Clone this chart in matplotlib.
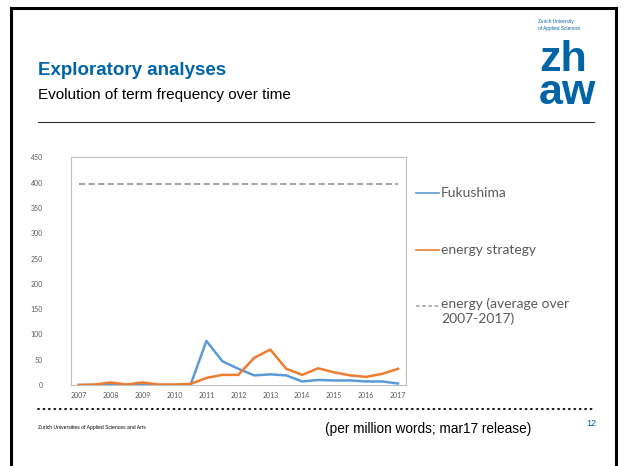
import matplotlib
matplotlib.use("Agg")
from matplotlib import pyplot as plt
from matplotlib.lines import Line2D

# half-year steps, labels only on full years
periods = [2007, 2007.5, 2008, 2008.5, 2009, 2009.5, 2010, 2010.5, 2011, 2011.5, 2012,
           2012.5, 2013, 2013.5, 2014, 2014.5, 2015, 2015.5, 2016, 2016.5, 2017]
fukushima = [0, 0, 2, 0, 1, 0, 0, 0, 87, 47, 32, 19, 21, 19, 7, 10, 9, 9, 7, 7, 3]
energy_strategy = [0, 1, 5, 1, 5, 1, 1, 2, 14, 20, 20, 54, 70, 32, 20, 33, 25, 19, 16, 22, 32]
energy_avg = 398
year_ticks = [2007, 2008, 2009, 2010, 2011, 2012, 2013, 2014, 2015, 2016, 2017]
y_ticks = [0, 50, 100, 150, 200, 250, 300, 350, 400, 450]

W, H = 624, 466
BLUE = "#5B9BD5"
ORANGE = "#ED7D31"
GREY = "#A5A5A5"
TXT = "#595959"
ZHAW = "#0064A6"


def px(x, y):
    return x / W, 1 - y / H


fig = plt.figure(figsize=(W / 100, H / 100), dpi=100)

# slide frame
for xs, ys in [([11, 11], [8, 466]), ([616, 616], [8, 466]), ([11, 616], [8, 8])]:
    fig.add_artist(Line2D([x / W for x in xs], [1 - y / H for y in ys], color="black", lw=2.2))

# header
fig.text(*px(38, 75), "Exploratory analyses", color=ZHAW, fontsize=13.5, fontweight="bold",
         family="Liberation Sans")
fig.text(*px(38, 99), "Evolution of term frequency over time", color="black", fontsize=11,
         family="Liberation Sans")
fig.add_artist(Line2D([38 / W, 594 / W], [1 - 122 / H] * 2, color="#333333", lw=0.8))

# logo
fig.text(*px(538, 25), "Zurich University\nof Applied Sciences", color=ZHAW, fontsize=3.4,
         family="Liberation Sans", va="center", linespacing=1.3)
fig.text(*px(539, 104), "zh\naw", color=ZHAW, fontsize=31, fontweight="bold",
         family="Liberation Sans", linespacing=0.78, va="baseline")

# chart
ax = fig.add_axes([70.7 / W, 1 - 385 / H, (406 - 70.7) / W, (385 - 157.3) / H])
ax.plot(periods, fukushima, color=BLUE, lw=1.8)
ax.plot(periods, energy_strategy, color=ORANGE, lw=1.8)
ax.plot([periods[0], periods[-1]], [energy_avg, energy_avg], color=GREY, lw=1.5,
        dashes=(3, 1.6))
ax.set_xlim(2006.75, 2017.25)
ax.set_ylim(0, 450)
ax.set_xticks(year_ticks)
ax.set_xticklabels([str(y) for y in year_ticks])
ax.set_yticks(y_ticks)
ax.tick_params(length=0, labelsize=5, labelcolor=TXT)
ax.tick_params(axis="y", pad=20)
ax.tick_params(axis="x", pad=5)
for lab in ax.get_xticklabels() + ax.get_yticklabels():
    lab.set_family("Lato")
for s in ax.spines.values():
    s.set_color("#BFBFBF")
    s.set_linewidth(0.8)

# legend
legend_items = [(193, BLUE, "-", "Fukushima"),
                (250, ORANGE, "-", "energy strategy"),
                (306, GREY, "--", "energy (average over\n2007-2017)")]
for y, c, ls, lab in legend_items:
    fig.add_artist(Line2D([416 / W, 439 / W], [1 - y / H] * 2, color=c, lw=1.2, ls=ls,
                          dashes=(2.2, 1.5) if ls == "--" else (None, None)))
    two = "\n" in lab
    fig.text(*px(441, y - 9 if two else y), lab, color=TXT, fontsize=10, family="Lato",
             va="top" if two else "center", linespacing=1.25)

# footer
fig.add_artist(Line2D([38 / W, 594 / W], [1 - 409 / H] * 2, color="black", lw=1.3,
                      ls=(0, (0.6, 2.4)), dash_capstyle="round"))
fig.text(*px(38, 429), "Zurich Universities of Applied Sciences and Arts", color="black",
         fontsize=3.6, family="Liberation Sans")
fig.text(*px(325, 433), "(per million words; mar17 release)", color="black", fontsize=9.8,
         family="Liberation Sans")
fig.text(*px(586, 426), "12", color=ZHAW, fontsize=6.5, family="Liberation Sans")

fig.savefig("out.png", dpi=100)
